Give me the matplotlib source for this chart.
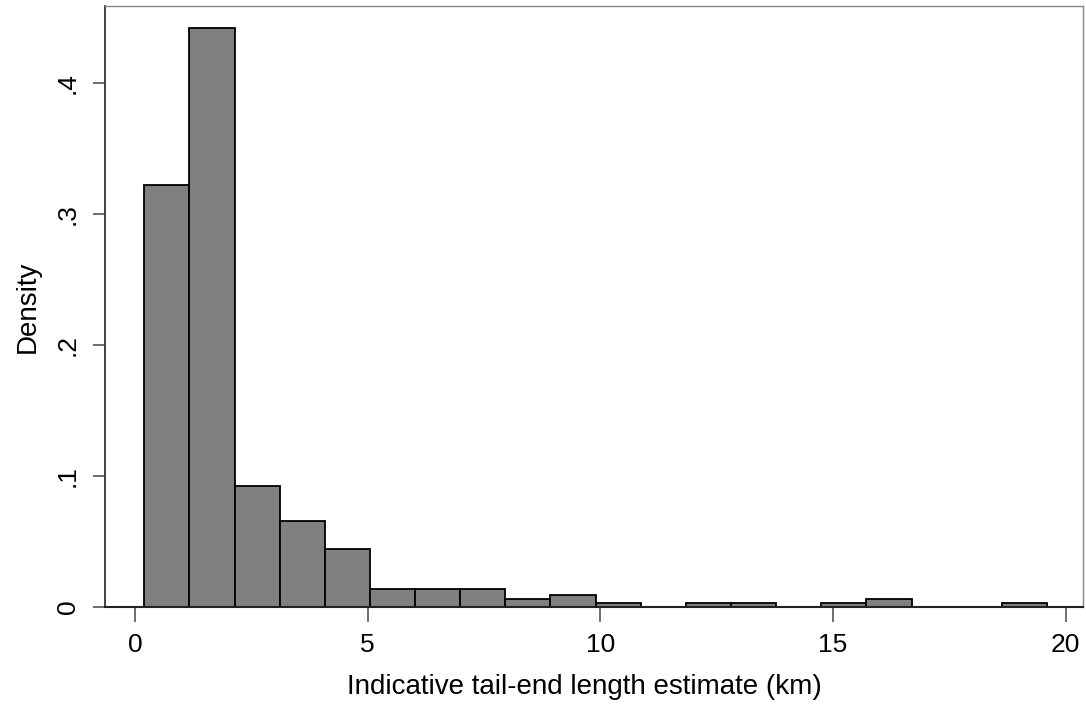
import matplotlib
matplotlib.use("Agg")
import matplotlib.pyplot as plt
from matplotlib.ticker import FixedLocator, FuncFormatter

# histogram: 20 bins starting at 0.2, width ~0.97 km
bin_start = 0.2
bin_width = 0.97
density = [0.322, 0.442, 0.092, 0.066, 0.044, 0.014, 0.014, 0.014, 0.006, 0.009,
           0.003, 0.0, 0.003, 0.003, 0.0, 0.003, 0.006, 0.0, 0.0, 0.003]
x_ticks = [0, 5, 10, 15, 20]
y_ticks = [0, 0.1, 0.2, 0.3, 0.4]

plt.rcParams['font.family'] = ['Liberation Sans', 'DejaVu Sans']

fig = plt.figure(figsize=(10.86, 7.04), dpi=100)
ax = fig.add_axes([0.0967, 0.1378, 0.9003, 0.8537])

lefts = [bin_start + i * bin_width for i in range(len(density))]
nonzero = [(l, d) for l, d in zip(lefts, density) if d > 0]
ax.bar([l for l, d in nonzero], [d for l, d in nonzero], width=bin_width,
       align="edge", color="#808080", edgecolor="black", linewidth=1.3, zorder=2)

ax.set_xlim(-0.644, 20.37)
ax.set_ylim(0, 0.4588)

ax.xaxis.set_major_locator(FixedLocator(x_ticks))
ax.yaxis.set_major_locator(FixedLocator(y_ticks))
ax.yaxis.set_major_formatter(FuncFormatter(lambda v, p: "0" if v == 0 else ("%.1f" % v).lstrip("0")))

ax.tick_params(axis="both", direction="out", width=1.2, color="#555555", labelsize=19)
ax.tick_params(axis="x", length=11, pad=8)
ax.tick_params(axis="y", length=9, pad=9)
for lab in ax.get_yticklabels():
    lab.set_rotation(90)
    lab.set_va("center")

for side in ["top", "right"]:
    ax.spines[side].set_color("#888888")
    ax.spines[side].set_linewidth(1.0)
ax.spines["left"].set_color("#333333")
ax.spines["left"].set_linewidth(1.3)
ax.spines["bottom"].set_color("#222222")
ax.spines["bottom"].set_linewidth(1.5)

ax.set_xlabel("Indicative tail-end length estimate (km)", fontsize=20)
ax.xaxis.set_label_coords(0.49, -0.112)
ax.set_ylabel("Density", fontsize=20, labelpad=11)

fig.savefig("out.png", dpi=100)
